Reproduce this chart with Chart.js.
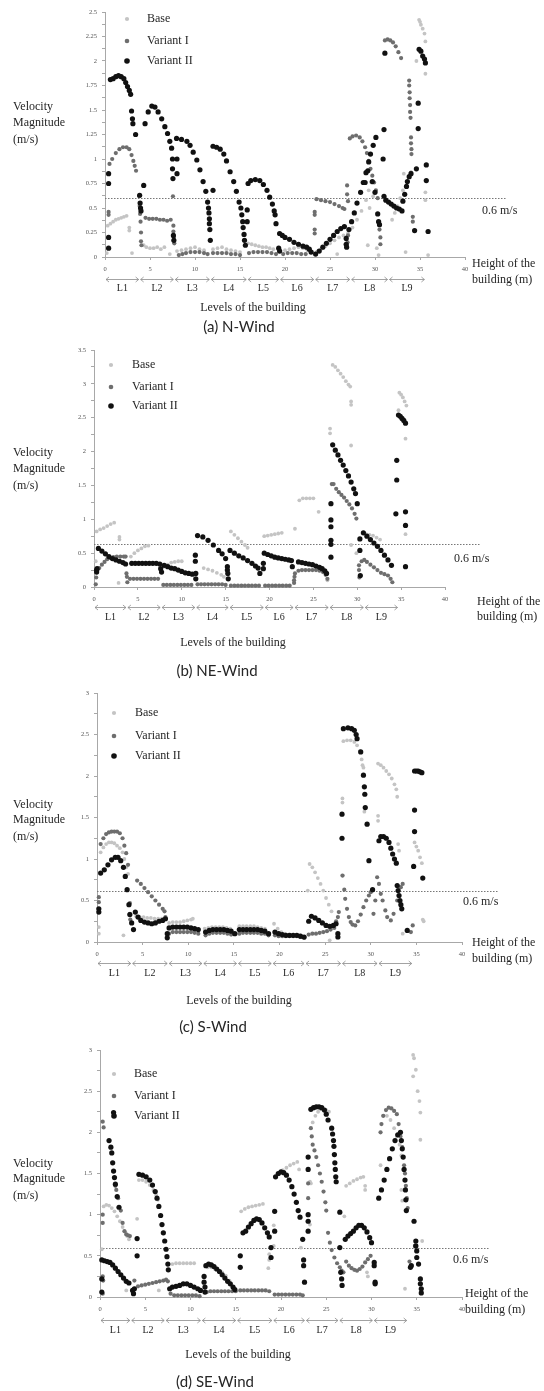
<!DOCTYPE html>
<html><head><meta charset="utf-8">
<script src="https://cdn.jsdelivr.net/npm/chart.js@4.4.1/dist/chart.umd.min.js"></script>
<style>
html,body{margin:0;padding:0;background:#fff;}
body{width:544px;height:1391px;position:relative;overflow:hidden;}
canvas{position:absolute;left:0;}
</style></head><body>
<canvas id="cA" width="544" height="340" style="top:0px"></canvas>
<canvas id="cB" width="544" height="340" style="top:340px"></canvas>
<canvas id="cC" width="544" height="360" style="top:680px"></canvas>
<canvas id="cD" width="544" height="351" style="top:1040px"></canvas>
<script>
// ---------- labels / categories ----------
const seriesNames = ['Base', 'Variant I', 'Variant II'];
const levelNames = ['L1','L2','L3','L4','L5','L6','L7','L8','L9'];
const yTitle = ['Velocity', 'Magnitude', '(m/s)'];
const heightTitle = ['Height of the', 'building (m)'];
const levelsTitle = 'Levels of the building';
const thresholdLabel = '0.6 m/s';
const captions = ['(a) N-Wind', '(b) NE-Wind', '(c) S-Wind', '(d) SE-Wind'];
const xTickStep = 5;

// ---------- (a) N-Wind ----------
const aYMax = 2.5, aYMajor = 0.25, aYMinor = 0.125, aThreshold = 0.6;
const aLevels = [0, 3.85, 7.7, 11.7, 15.8, 19.4, 23.3, 27.3, 31.5, 35.6];
const aBase = [[0.2,0.04],[0.3,0.32],[0.6,0.34],[0.9,0.36],[1.2,0.38],[1.5,0.39],[1.8,0.4],[2.1,0.41],[2.4,0.42],[2.7,0.3],[2.7,0.27],[3.0,0.04],
[4.3,0.12],[4.6,0.1],[5.0,0.09],[5.4,0.09],[5.8,0.1],[6.2,0.08],[6.6,0.1],[7.2,0.03],
[8.0,0.06],[8.5,0.07],[9.0,0.08],[9.5,0.09],[10.0,0.1],[10.5,0.08],[11.0,0.07],
[12.0,0.08],[12.5,0.09],[13.0,0.1],[13.5,0.08],[14.0,0.07],[14.5,0.06],[15.0,0.05],
[15.9,0.14],[16.3,0.13],[16.7,0.12],[17.1,0.11],[17.5,0.1],[17.9,0.1],[18.3,0.09],[18.7,0.08],
[19.5,0.06],[20.0,0.07],[20.5,0.08],[21.0,0.09],[21.5,0.1],[22.0,0.09],[22.5,0.07],[23.0,0.05],
[23.5,0.05],[24.0,0.08],[24.5,0.11],[25.0,0.14],[25.5,0.17],[26.0,0.2],[26.5,0.22],[25.8,0.03],
[27.0,0.24],[27.5,0.3],[28.0,0.38],[28.5,0.47],[29.0,0.58],[29.3,0.68],[29.6,0.76],[29.8,0.62],[29.4,0.5],[29.2,0.12],[30.2,0.09],[30.4,0.02],
[31.9,0.38],[32.2,0.45],[32.5,0.52],[32.8,0.6],[33.1,0.68],[33.2,0.85],[33.4,0.05],
[34.9,2.42],[35.0,2.4],[35.1,2.37],[35.3,2.33],[35.5,2.28],[35.6,2.2],[34.6,2.0],[35.6,1.87],[35.6,0.66],[35.6,0.58],[35.9,0.02]];
const aV1 = [[0.4,0.46],[0.4,0.43],[0.5,0.95],[0.8,1.0],[1.2,1.06],[1.6,1.1],[2.0,1.12],[2.4,1.12],[2.7,1.1],[2.95,1.04],[3.15,0.98],[3.3,0.93],[3.45,0.88],
[3.8,0.62],[3.85,0.52],[3.9,0.44],[3.95,0.36],[4.0,0.25],[4.0,0.16],[4.05,0.12],
[4.5,0.4],[4.9,0.39],[5.3,0.39],[5.7,0.39],[6.1,0.38],[6.5,0.38],[6.9,0.37],[7.3,0.38],
[7.55,0.62],[7.6,0.32],[7.6,0.26],[7.65,0.2],[7.7,0.14],
[8.2,0.02],[8.6,0.03],[9.0,0.04],[9.5,0.05],[10.0,0.05],[10.5,0.05],[11.0,0.04],[11.4,0.03],
[12.0,0.04],[12.5,0.04],[13.0,0.04],[13.5,0.04],[14.0,0.03],[14.5,0.03],[15.0,0.02],
[16.0,0.04],[16.5,0.05],[17.0,0.05],[17.5,0.05],[18.0,0.05],[18.5,0.04],[19.0,0.03],
[19.8,0.03],[20.3,0.04],[20.8,0.04],[21.3,0.04],[21.8,0.03],[22.3,0.03],
[23.3,0.46],[23.3,0.43],[23.3,0.28],[23.3,0.24],[23.5,0.59],[24.0,0.58],[24.5,0.57],[25.0,0.56],[25.5,0.54],[26.0,0.52],[26.4,0.5],[26.6,0.49],
[26.9,0.73],[26.9,0.64],[27.0,0.57],[27.0,0.22],[26.95,0.15],
[27.2,1.21],[27.5,1.23],[27.9,1.24],[28.3,1.22],[28.6,1.18],[28.9,1.12],[29.1,1.06],[29.3,0.98],[29.5,0.9],[29.7,0.83],[29.9,0.76],[30.1,0.68],[30.3,0.6],[30.5,0.28],[30.6,0.2],[30.6,0.13],
[31.1,2.21],[31.4,2.22],[31.7,2.21],[32.0,2.19],[32.3,2.15],[32.6,2.09],[32.9,2.03],
[33.8,1.8],[33.8,1.75],[33.85,1.68],[33.85,1.62],[33.9,1.55],[33.9,1.48],[33.95,1.42],[34.0,1.22],[34.0,1.16],[34.05,1.1],[34.05,1.05],[34.0,0.86],[34.2,0.41],[34.2,0.36]];
const aV2 = [[0.4,0.85],[0.4,0.75],[0.4,0.2],[0.4,0.09],
[0.6,1.81],[0.9,1.82],[1.2,1.84],[1.5,1.85],[1.8,1.84],[2.1,1.82],[2.3,1.78],[2.5,1.74],[2.7,1.7],[2.85,1.66],
[2.95,1.49],[3.05,1.41],[3.1,1.36],[3.4,1.25],
[3.85,0.63],[3.9,0.55],[3.95,0.5],[4.0,0.47],[4.3,0.73],
[4.45,1.36],[4.8,1.48],[5.2,1.54],[5.55,1.53],[5.9,1.48],[6.3,1.41],[6.65,1.33],[6.95,1.26],[7.2,1.18],[7.4,1.11],
[7.5,1.0],[7.5,0.9],[7.55,0.8],[7.6,0.22],[7.65,0.17],[8.0,1.0],[8.0,0.85],
[7.95,1.21],[8.5,1.2],[9.1,1.18],[9.45,1.14],[9.8,1.07],[10.2,0.99],[10.55,0.89],[10.9,0.77],[11.2,0.67],[11.4,0.56],
[11.5,0.5],[11.55,0.45],[11.6,0.39],[11.6,0.34],[11.65,0.28],[11.7,0.17],[12.0,0.68],
[12.0,1.13],[12.4,1.12],[12.8,1.1],[13.2,1.05],[13.5,0.98],[13.9,0.87],[14.3,0.77],[14.6,0.67],[14.9,0.56],[15.1,0.5],
[15.2,0.43],[15.3,0.36],[15.35,0.3],[15.45,0.23],[15.5,0.17],[15.6,0.12],[15.8,0.48],[15.8,0.36],
[15.9,0.75],[16.2,0.78],[16.7,0.79],[17.2,0.78],[17.6,0.74],[18.0,0.68],[18.3,0.61],[18.6,0.54],[18.8,0.47],[18.9,0.43],[19.0,0.34],
[19.3,0.09],[19.4,0.06],
[19.4,0.24],[19.7,0.22],[20.0,0.2],[20.5,0.18],[21.0,0.15],[21.5,0.13],[22.0,0.11],[22.4,0.1],[22.7,0.08],[22.9,0.05],
[23.4,0.03],[23.8,0.06],[24.2,0.1],[24.6,0.14],[25.0,0.18],[25.4,0.22],[25.8,0.26],[26.2,0.29],[26.6,0.31],
[26.8,0.19],[26.8,0.13],[26.85,0.1],
[27.1,0.28],[27.4,0.36],[27.7,0.45],[28.0,0.55],[28.4,0.66],[28.7,0.76],[29.0,0.86],[29.3,0.97],[29.5,1.05],[29.8,1.14],[30.1,1.22],
[28.9,0.76],[29.2,0.88],[29.7,0.77],[30.0,0.66],[30.3,0.44],[30.4,0.36],[30.5,0.33],[30.9,1.0],[31.0,1.3],[31.1,2.08],
[31.0,0.62],[31.2,0.58],[31.5,0.56],[31.8,0.54],[32.1,0.52],[32.4,0.5],[32.7,0.49],[33.0,0.47],
[33.1,0.57],[33.3,0.64],[33.5,0.72],[33.6,0.77],[33.8,0.82],[34.0,0.85],
[34.4,0.27],[34.6,0.9],[34.8,1.31],[34.8,1.57],[35.7,0.94],[35.7,0.78],[35.9,0.26],
[34.9,2.12],[35.1,2.1],[35.3,2.05],[35.5,2.02],[35.6,1.98]];

// ---------- (b) NE-Wind ----------
const bYMax = 3.5, bYMajor = 0.5, bYMinor = 0.25, bThreshold = 0.63;
const bLevels = [0, 3.75, 7.65, 11.6, 15.4, 19.4, 22.8, 26.8, 30.8, 34.7];
const bBase = [[0.2,0.38],[0.3,0.82],[0.7,0.85],[1.1,0.87],[1.5,0.9],[1.9,0.93],[2.3,0.95],[2.9,0.74],[2.9,0.7],[2.8,0.06],
[4.2,0.45],[4.6,0.5],[5.0,0.54],[5.4,0.57],[5.8,0.6],[6.2,0.61],
[8.0,0.3],[8.4,0.33],[8.8,0.36],[9.2,0.37],[9.6,0.38],[10.0,0.38],
[12.5,0.28],[13.0,0.26],[13.5,0.24],[14.0,0.21],[14.5,0.18],[14.8,0.15],
[15.6,0.82],[16.0,0.77],[16.4,0.72],[16.8,0.67],[17.2,0.62],[17.5,0.58],
[19.4,0.75],[19.8,0.76],[20.2,0.77],[20.6,0.78],[21.0,0.79],[21.4,0.8],
[22.9,0.86],[23.4,1.28],[23.8,1.31],[24.2,1.31],[24.6,1.31],[25.0,1.31],[25.6,1.11],[26.6,0.1],
[26.9,2.34],[26.9,2.27],[27.2,3.28],[27.5,3.25],[27.8,3.2],[28.1,3.15],[28.4,3.1],[28.7,3.04],[29.0,2.99],[29.2,2.96],[29.3,2.74],[29.3,2.69],[29.3,2.09],[29.3,0.62],[29.9,0.5],
[31.0,0.78],[31.4,0.77],[31.8,0.76],[32.2,0.73],[32.6,0.7],
[34.8,2.87],[35.0,2.84],[35.2,2.8],[35.4,2.74],[35.6,2.68],[34.7,2.61],[35.5,2.19],[35.5,0.78]];
const bV1 = [[0.2,0.04],[0.25,0.14],[0.3,0.24],[0.6,0.28],[0.9,0.33],[1.2,0.37],[1.5,0.41],[1.8,0.43],[2.2,0.44],[2.6,0.45],[3.0,0.45],[3.4,0.45],[3.6,0.45],
[3.7,0.2],[3.75,0.15],[3.8,0.07],
[4.1,0.12],[4.5,0.12],[4.9,0.12],[5.3,0.12],[5.7,0.12],[6.1,0.12],[6.5,0.12],[6.9,0.12],[7.3,0.12],
[7.9,0.03],[8.3,0.03],[8.7,0.03],[9.1,0.03],[9.5,0.03],[9.9,0.03],[10.3,0.03],[10.7,0.03],[11.1,0.03],
[11.8,0.04],[12.2,0.04],[12.6,0.04],[13.0,0.04],[13.4,0.04],[13.8,0.04],[14.2,0.04],[14.6,0.04],[15.0,0.03],
[15.6,0.02],[16.0,0.02],[16.4,0.02],[16.8,0.02],[17.2,0.02],[17.6,0.02],[18.0,0.02],[18.4,0.02],[18.8,0.02],
[19.5,0.02],[19.9,0.02],[20.3,0.02],[20.7,0.02],[21.1,0.02],[21.5,0.02],[21.9,0.02],[22.3,0.02],
[22.8,0.06],[22.8,0.1],[22.85,0.15],[22.9,0.2],
[23.3,0.24],[23.7,0.25],[24.1,0.25],[24.5,0.25],[24.9,0.25],[25.3,0.25],[25.7,0.24],[26.1,0.22],[26.4,0.18],[26.6,0.12],
[27.1,1.52],[27.3,1.52],[27.6,1.45],[27.9,1.4],[28.2,1.36],[28.5,1.32],[28.8,1.27],[29.1,1.22],[29.4,1.16],[29.7,1.08],[29.9,1.01],
[30.2,0.32],[30.2,0.25],[30.25,0.14],
[30.5,0.38],[30.8,0.4],[31.1,0.37],[31.5,0.33],[31.9,0.29],[32.3,0.25],[32.7,0.21],[33.1,0.19],[33.5,0.17],[33.8,0.12],[34.0,0.07]];
const bV2 = [[0.3,0.25],[0.3,0.22],[0.35,0.27],
[0.5,0.57],[0.9,0.53],[1.3,0.49],[1.7,0.45],[2.1,0.42],[2.5,0.4],[2.9,0.38],[3.3,0.36],[3.6,0.34],
[4.3,0.35],[4.7,0.35],[5.1,0.35],[5.5,0.35],[5.9,0.35],[6.3,0.35],[6.7,0.35],[7.1,0.35],[7.5,0.34],[7.6,0.27],[7.7,0.22],
[8.0,0.32],[8.4,0.3],[8.8,0.28],[9.2,0.27],[9.6,0.25],[10.0,0.23],[10.4,0.21],[10.8,0.2],[11.2,0.19],
[11.55,0.47],[11.55,0.38],[11.6,0.2],[11.6,0.12],
[11.8,0.76],[12.4,0.74],[13.0,0.69],[13.6,0.62],[14.2,0.54],[14.6,0.49],[15.0,0.42],
[15.2,0.3],[15.2,0.25],[15.25,0.2],[15.3,0.12],
[15.5,0.54],[16.0,0.5],[16.5,0.46],[17.0,0.43],[17.5,0.39],[18.0,0.35],[18.4,0.31],[18.7,0.28],[18.9,0.2],
[19.3,0.35],[19.3,0.27],
[19.4,0.5],[19.8,0.48],[20.2,0.46],[20.6,0.44],[21.0,0.43],[21.4,0.42],[21.8,0.41],[22.2,0.4],[22.5,0.39],[22.6,0.3],
[23.3,0.37],[23.7,0.36],[24.1,0.35],[24.5,0.34],[24.9,0.33],[25.3,0.31],[25.7,0.29],[26.0,0.27],[26.3,0.24],[26.5,0.2],
[27.0,1.23],[27.0,0.99],[27.0,0.89],[27.0,0.69],[27.0,0.63],[27.0,0.44],
[27.2,2.1],[27.5,2.02],[27.8,1.95],[28.1,1.87],[28.4,1.8],[28.7,1.72],[29.0,1.64],[29.3,1.55],[29.6,1.45],[29.8,1.38],[30.0,1.23],
[30.3,0.71],[30.3,0.54],[30.35,0.17],
[30.7,0.8],[31.1,0.75],[31.5,0.7],[31.9,0.65],[32.3,0.6],[32.7,0.54],[33.1,0.47],[33.5,0.4],[33.9,0.32],
[34.5,1.87],[34.5,1.58],[34.4,1.08],[35.5,1.11],[35.5,0.91],[35.5,0.3],
[34.7,2.54],[34.9,2.52],[35.1,2.49],[35.3,2.46],[35.5,2.42]];

// ---------- (c) S-Wind ----------
const cYMax = 3, cYMajor = 0.5, cYMinor = 0.25, cThreshold = 0.61;
const cLevels = [0, 3.8, 7.8, 11.6, 15.4, 19.2, 22.8, 26.8, 30.8, 34.6];
const cBase = [[0.2,0.18],[0.2,0.1],
[0.4,1.08],[0.7,1.14],[1.0,1.18],[1.3,1.2],[1.6,1.2],[1.9,1.19],[2.2,1.16],[2.5,1.13],[2.8,1.08],[3.0,1.0],[3.2,0.9],[3.4,0.82],[2.9,0.08],
[4.3,0.31],[4.7,0.3],[5.1,0.3],[5.5,0.29],[5.9,0.29],[6.3,0.28],[6.7,0.28],[7.1,0.28],
[7.9,0.23],[8.3,0.24],[8.7,0.24],[9.1,0.24],[9.5,0.25],[9.9,0.26],[10.3,0.27],[10.5,0.28],
[11.8,0.16],[12.2,0.17],[12.6,0.18],[13.0,0.18],[13.4,0.18],[13.8,0.18],[14.2,0.17],[14.6,0.16],
[15.6,0.19],[16.0,0.19],[16.4,0.19],[16.8,0.19],[17.2,0.19],[17.6,0.18],[18.0,0.17],[18.4,0.16],
[19.4,0.22],[19.8,0.16],[20.2,0.12],[20.6,0.1],[21.0,0.09],[21.4,0.08],[21.8,0.08],[22.2,0.08],
[23.1,0.62],[23.3,0.94],[23.6,0.9],[23.9,0.84],[24.2,0.77],[24.5,0.7],[24.8,0.62],[25.1,0.53],[25.4,0.45],[25.7,0.37],[25.5,0.02],
[26.9,1.73],[26.9,1.68],[26.95,0.8],
[27.0,2.42],[27.4,2.43],[27.8,2.43],[28.2,2.41],[28.5,2.37],[28.8,2.3],[29.0,2.2],[29.1,2.13],[29.2,2.1],[29.3,1.57],
[30.8,1.52],[30.8,1.46],
[30.8,2.15],[31.1,2.13],[31.4,2.1],[31.7,2.06],[32.0,2.02],[32.3,1.97],[32.6,1.9],[32.8,1.84],[32.9,1.75],[33.0,1.18],[33.1,1.1],[33.5,0.1],
[34.8,1.2],[35.0,1.15],[35.2,1.1],[35.4,1.02],[35.6,0.95],[35.7,0.27],[35.8,0.25]];
const cV1 = [[0.2,0.54],[0.2,0.48],
[0.4,1.18],[0.7,1.25],[1.0,1.3],[1.3,1.32],[1.6,1.33],[1.9,1.33],[2.2,1.33],[2.5,1.31],[2.8,1.25],[3.0,1.16],[3.2,1.07],[3.4,0.93],
[3.6,0.47],[3.6,0.34],[3.65,0.27],
[4.4,0.74],[4.8,0.7],[5.2,0.65],[5.6,0.6],[6.0,0.55],[6.4,0.5],[6.8,0.45],[7.2,0.4],[7.4,0.37],[7.5,0.3],
[7.9,0.1],[8.3,0.12],[8.7,0.12],[9.1,0.12],[9.5,0.12],[9.9,0.12],[10.3,0.12],[10.7,0.11],[11.1,0.1],
[11.9,0.08],[12.3,0.1],[12.7,0.11],[13.1,0.11],[13.5,0.11],[13.9,0.11],[14.3,0.1],[14.7,0.09],
[15.6,0.1],[16.0,0.11],[16.4,0.11],[16.8,0.11],[17.2,0.11],[17.6,0.11],[18.0,0.1],[18.4,0.1],[18.8,0.08],
[19.5,0.08],[19.9,0.07],[20.3,0.07],[20.7,0.07],[21.1,0.07],[21.5,0.07],[21.9,0.07],[22.3,0.06],[22.7,0.05],
[23.2,0.09],[23.6,0.1],[24.0,0.1],[24.4,0.11],[24.8,0.12],[25.2,0.13],[25.6,0.15],[26.0,0.17],[26.2,0.25],[26.4,0.3],[26.5,0.36],
[26.9,0.8],[27.1,0.63],[27.2,0.52],[27.4,0.4],[27.6,0.3],[27.8,0.24],[28.0,0.21],[28.3,0.2],[28.6,0.25],[28.9,0.33],[29.2,0.42],[29.5,0.5],[29.8,0.56],[30.0,0.6],
[30.3,0.34],[30.5,0.5],[30.7,0.78],[30.9,0.7],[31.1,0.58],[31.3,0.5],[31.6,0.38],[31.8,0.3],[32.2,0.26],[32.5,0.34],[32.9,0.5],[33.3,0.66],[33.5,0.7],
[34.4,0.12],[34.6,0.2]];
const cV2 = [[0.2,0.4],[0.2,0.36],
[0.4,0.83],[0.8,0.87],[1.2,0.93],[1.6,0.99],[2.0,1.02],[2.3,1.02],[2.6,0.98],[2.9,0.9],[3.1,0.79],[3.3,0.63],[3.5,0.45],[3.6,0.33],[3.8,0.23],[4.0,0.15],
[4.2,0.36],[4.5,0.3],[4.8,0.26],[5.2,0.24],[5.6,0.23],[6.0,0.22],[6.4,0.23],[6.8,0.25],[7.2,0.26],[7.5,0.28],
[7.7,0.1],[7.7,0.05],
[7.9,0.17],[8.3,0.18],[8.7,0.18],[9.1,0.18],[9.5,0.18],[9.9,0.18],[10.3,0.17],[10.7,0.16],[11.1,0.15],
[11.9,0.12],[12.3,0.14],[12.7,0.15],[13.1,0.15],[13.5,0.15],[13.9,0.15],[14.3,0.14],[14.7,0.13],[15.1,0.1],
[15.6,0.15],[16.0,0.15],[16.4,0.15],[16.8,0.15],[17.2,0.15],[17.6,0.15],[18.0,0.14],[18.4,0.13],[18.8,0.1],
[19.5,0.12],[19.9,0.1],[20.3,0.09],[20.7,0.08],[21.1,0.08],[21.5,0.08],[21.9,0.08],[22.3,0.07],[22.7,0.06],
[23.2,0.25],[23.5,0.31],[23.9,0.29],[24.3,0.26],[24.7,0.23],[25.1,0.2],[25.5,0.19],[25.9,0.2],[26.2,0.22],
[26.4,0.1],[26.4,0.06],[26.85,1.54],[26.85,1.25],
[27.0,2.57],[27.5,2.58],[27.9,2.57],[28.2,2.55],[28.4,2.5],[28.5,2.45],
[28.9,2.29],[29.2,2.01],[29.3,1.87],[29.35,1.78],[29.4,1.62],[29.6,1.42],[29.8,0.98],[30.2,0.63],
[30.9,1.22],[31.1,1.27],[31.4,1.27],[31.7,1.25],[32.0,1.2],[32.2,1.13],[32.4,1.06],[32.6,1.0],[32.8,0.95],
[32.9,0.68],[33.0,0.62],[33.1,0.56],[33.2,0.5],[33.3,0.45],[33.4,0.4],
[34.0,0.14],[34.7,0.91],[34.8,1.33],[34.8,1.59],[35.7,0.77],
[34.8,2.06],[35.0,2.06],[35.2,2.06],[35.4,2.05],[35.6,2.04]];

// ---------- (d) SE-Wind ----------
const dYMax = 3, dYMajor = 0.5, dYMinor = 0.25, dThreshold = 0.6;
const dLevels = [0, 3.4, 7.2, 11.2, 15.1, 19.1, 22.7, 26.4, 30.2, 34.0];
const dBase = [[0.2,0.58],[0.4,1.1],[0.7,1.12],[1.0,1.11],[1.3,1.08],[1.6,1.04],[1.9,0.98],[2.2,0.92],[2.5,0.85],[2.8,0.79],[3.0,0.74],[3.2,0.7],[2.9,0.08],
[4.1,0.95],[4.3,1.42],[4.7,1.42],[5.1,1.4],[5.5,1.36],[5.9,1.3],[6.2,1.24],[6.4,1.18],[6.5,0.08],
[8.0,0.4],[8.4,0.41],[8.8,0.41],[9.2,0.41],[9.6,0.41],[10.0,0.41],[10.4,0.41],
[11.9,0.36],[12.3,0.36],[12.7,0.34],[13.1,0.32],[13.5,0.3],[13.9,0.26],[14.3,0.2],
[15.6,1.04],[16.0,1.07],[16.4,1.09],[16.8,1.1],[17.2,1.11],[17.6,1.12],[18.0,1.13],[18.7,0.52],[18.7,0.45],[18.6,0.35],
[19.2,0.87],[19.2,0.62],
[19.4,1.46],[19.8,1.5],[20.2,1.54],[20.6,1.57],[21.0,1.6],[21.4,1.62],[21.8,1.64],[22.0,1.55],[22.2,0.6],
[23.2,1.4],[23.3,1.38],[23.2,0.88],
[23.5,2.12],[23.8,2.2],[24.1,2.25],[24.4,2.28],[24.7,2.28],[25.0,2.27],[25.3,2.25],
[27.0,0.98],[27.2,1.35],[27.6,1.38],[28.0,1.41],[28.4,1.43],[28.8,1.45],[29.1,1.46],[29.3,1.35],[29.3,1.3],[29.5,0.3],[29.6,0.25],
[31.0,1.6],[31.3,2.2],[31.7,2.2],[32.1,2.15],[32.5,2.05],[32.8,1.95],[33.1,1.85],[33.3,1.72],[33.3,1.3],[33.4,1.17],[33.7,0.1],
[34.6,2.94],[34.7,2.9],[34.9,2.76],[34.6,2.68],[35.1,2.5],[35.3,2.38],[35.4,2.24],[35.4,1.91],[35.6,0.68]];
const dV1 = [[0.3,2.13],[0.4,2.06],[0.3,1.0],[0.3,0.9],[0.3,0.25],[0.35,0.2],[0.3,0.04],
[1.7,1.35],[1.8,1.3],[2.0,1.2],[2.3,1.05],[2.5,0.9],[2.7,0.8],[2.9,0.76],[3.1,0.75],[3.3,0.74],
[3.7,0.04],[3.8,0.2],
[4.2,0.13],[4.6,0.14],[5.0,0.15],[5.4,0.16],[5.8,0.17],[6.2,0.18],[6.6,0.19],[7.0,0.2],[7.3,0.21],[7.5,0.19],
[7.8,0.04],[8.2,0.02],[8.6,0.02],[9.0,0.02],[9.4,0.02],[9.8,0.02],[10.2,0.02],[10.6,0.02],[11.0,0.01],
[11.8,0.06],[12.2,0.07],[12.6,0.07],[13.0,0.07],[13.4,0.07],[13.8,0.07],[14.2,0.07],[14.6,0.07],[15.0,0.07],
[15.5,0.08],[15.9,0.08],[16.3,0.08],[16.7,0.08],[17.1,0.08],[17.5,0.08],[17.9,0.08],[18.3,0.08],[18.7,0.07],
[19.3,0.03],[19.7,0.03],[20.1,0.03],[20.5,0.03],[20.9,0.03],[21.3,0.03],[21.7,0.03],[22.1,0.03],[22.4,0.02],
[23.0,1.38],[23.0,1.2],
[23.3,2.05],[23.4,1.95],[23.5,1.85],[23.7,1.78],[23.9,1.7],[24.1,1.6],[24.3,1.5],[24.5,1.4],[24.7,1.28],[24.9,1.15],[25.0,1.05],
[25.2,0.78],[25.4,0.66],[25.6,0.57],[25.9,0.48],[26.2,0.41],[26.5,0.36],[26.7,0.32],[26.9,0.3],
[27.2,0.43],[27.5,0.38],[27.8,0.35],[28.1,0.33],[28.4,0.32],[28.7,0.34],[29.0,0.37],[29.3,0.42],[29.6,0.46],[29.9,0.5],
[31.0,2.0],[31.1,2.1],[31.3,2.2],[31.6,2.27],[31.9,2.3],[32.2,2.29],[32.5,2.26],[32.8,2.22],
[33.0,2.1],[33.2,1.95],[33.4,1.82],[33.5,1.7],[33.6,1.6],[33.7,1.5],[33.8,1.35],[33.9,1.2],[34.0,1.08],
[34.2,0.43],[34.8,0.62]];
const dV2 = [[0.2,0.22],[0.2,0.06],
[0.2,0.45],[0.5,0.44],[0.8,0.43],[1.1,0.42],[1.4,0.39],[1.7,0.35],[2.0,0.31],[2.3,0.27],[2.6,0.23],[2.9,0.19],[3.2,0.17],
[1.5,2.24],[1.0,1.9],[1.2,1.82],[1.3,1.75],[1.4,1.63],[1.5,1.53],[1.6,1.45],[1.7,1.37],[1.9,1.22],[2.1,1.09],
[3.6,0.08],[3.7,0.04],[3.8,0.1],[4.1,0.71],[4.1,0.5],
[4.3,1.49],[4.7,1.48],[5.1,1.46],[5.5,1.42],[5.8,1.36],[6.1,1.28],[6.3,1.2],[6.5,1.1],[6.7,0.99],[6.85,0.88],[7.0,0.78],[7.15,0.68],[7.3,0.58],[7.4,0.49],[7.5,0.4],[7.55,0.33],
[7.7,0.1],[8.0,0.12],[8.4,0.13],[8.8,0.14],[9.2,0.16],[9.6,0.16],[10.0,0.14],[10.4,0.12],[10.8,0.1],[11.1,0.08],
[11.5,0.25],[11.5,0.18],[11.6,0.12],[11.6,0.06],
[11.7,0.38],[12.0,0.4],[12.3,0.39],[12.6,0.37],[12.9,0.34],[13.2,0.31],[13.5,0.27],[13.8,0.23],[14.1,0.19],[14.4,0.16],[14.7,0.12],[14.9,0.09],
[15.5,0.5],[15.5,0.36],
[15.8,0.78],[16.1,0.8],[16.4,0.85],[16.7,0.89],[17.0,0.93],[17.3,0.95],[17.6,0.94],[17.9,0.9],[18.2,0.84],[18.5,0.78],[18.7,0.73],
[18.9,0.6],[18.9,0.48],[19.3,1.04],[19.3,0.8],
[19.4,1.46],[19.7,1.5],[20.0,1.52],[20.3,1.51],[20.6,1.48],[20.9,1.42],[21.2,1.34],[21.45,1.25],[21.7,1.15],[21.9,1.05],[22.1,0.97],
[22.4,0.7],[22.5,0.45],[22.5,0.38],[22.6,0.18],
[23.0,1.7],[23.0,1.55],[23.0,1.0],[23.0,0.92],[23.0,0.8],
[23.3,2.28],[23.6,2.3],[23.9,2.31],[24.2,2.31],[24.5,2.3],[24.8,2.27],[25.0,2.22],[25.2,2.15],
[25.6,2.05],[25.7,1.98],[25.8,1.9],[25.85,1.83],[25.9,1.73],[25.95,1.63],[26.0,1.55],[26.05,1.46],[26.1,1.4],
[26.5,1.03],[26.5,0.6],[26.6,0.3],[26.7,0.22],[26.75,0.14],
[27.1,0.7],[27.4,0.74],[27.7,0.77],[28.0,0.8],[28.3,0.84],[28.6,0.87],[28.9,0.87],[29.2,0.84],[29.5,0.79],[29.8,0.72],[30.0,0.66],
[30.3,0.42],[30.3,0.38],[30.4,0.18],[30.4,0.16],
[30.8,1.2],[31.1,1.3],[31.4,1.42],[31.7,1.55],[32.0,1.68],[32.3,1.8],[32.6,1.9],[32.9,1.97],[33.2,2.0],
[33.3,1.9],[33.4,1.8],[33.5,1.7],[33.6,1.55],[33.7,1.42],[33.75,1.3],[33.8,1.18],[33.85,1.05],
[34.3,0.36],[34.4,0.38],[34.7,0.92],[34.9,0.68],[34.9,0.62],[35.0,0.56],[35.0,0.48],[35.2,0.4],[35.4,0.22],[35.4,0.16],[35.5,0.1],[35.5,0.05]];

// ---------- styling ----------
const SERIF = '"Liberation Serif","Times New Roman",serif';
const SANS = 'Lato,"Open Sans",sans-serif';
const TEXT = '#262626', TICK = '#555555', AXIS = '#a8a8a8';
const COLORS = ['#c4c4c4', '#6e6e6e', '#111111'];
const RADII = [1.9, 2.1, 2.6];

function decor(d, L) {
  return {
    id: 'decor',
    beforeDatasetsDraw(chart) {
      const {ctx, scales: {x, y}} = chart;
      const py = Math.round(y.getPixelForValue(d.threshold)) + 0.5;
      ctx.save();
      ctx.strokeStyle = '#777'; ctx.lineWidth = 1; ctx.setLineDash([1.5, 1.5]);
      ctx.beginPath(); ctx.moveTo(x.getPixelForValue(0), py); ctx.lineTo(L.lineEnd, py); ctx.stroke();
      ctx.restore();
    },
    afterDraw(chart) {
      const {ctx, scales: {x}, chartArea: ca} = chart;
      ctx.save();
      ctx.textBaseline = 'middle'; ctx.fillStyle = TEXT;
      const ay = Math.round(ca.bottom + L.arrowDy) + 0.5;
      ctx.strokeStyle = '#8c8c8c'; ctx.lineWidth = 0.8;
      ctx.font = '10px ' + SERIF; ctx.textAlign = 'center';
      for (let i = 0; i < d.levels.length - 1; i++) {
        const x1 = x.getPixelForValue(d.levels[i]) + 1, x2 = x.getPixelForValue(d.levels[i + 1]) - 1;
        ctx.beginPath();
        ctx.moveTo(x1, ay); ctx.lineTo(x2, ay);
        ctx.moveTo(x1 + 3, ay - 2.5); ctx.lineTo(x1, ay); ctx.lineTo(x1 + 3, ay + 2.5);
        ctx.moveTo(x2 - 3, ay - 2.5); ctx.lineTo(x2, ay); ctx.lineTo(x2 - 3, ay + 2.5);
        ctx.stroke();
        ctx.fillText(levelNames[i], (x1 + x2) / 2, ca.bottom + L.labelDy);
      }
      ctx.textAlign = 'left'; ctx.font = '12px ' + SERIF;
      yTitle.forEach((t, i) => ctx.fillText(t, L.yTitleX, L.yTitleY[i]));
      ctx.fillText(thresholdLabel, L.thrX, L.thrY);
      heightTitle.forEach((t, i) => ctx.fillText(t, L.hX, L.hY[i]));
      ctx.textAlign = 'center';
      ctx.fillText(levelsTitle, L.lvX, L.lvY);
      ctx.font = '15px ' + SANS;
      ctx.fillText(d.caption, L.capX, L.capY);
      ctx.textAlign = 'left'; ctx.font = '12px ' + SERIF;
      chart.data.datasets.forEach((ds, i) => {
        ctx.fillStyle = ds.pointBackgroundColor;
        ctx.beginPath(); ctx.arc(L.legX, L.legY[i], ds.pointRadius + 0.2, 0, Math.PI * 2); ctx.fill();
        ctx.fillStyle = TEXT;
        ctx.fillText(ds.label, L.legTX, L.legY[i]);
      });
      ctx.restore();
    }
  };
}

function panel(id, d, L) {
  const mk = (i, data, order) => ({
    label: seriesNames[i], data: data.map(([x, y]) => ({x, y})),
    pointRadius: RADII[i], pointHoverRadius: RADII[i], pointBorderWidth: 0,
    pointBackgroundColor: COLORS[i], backgroundColor: COLORS[i], borderColor: COLORS[i],
    showLine: false, clip: false, order
  });
  const tickFont = {family: SERIF, size: 6.5};
  return new Chart(document.getElementById(id), {
    type: 'scatter',
    data: {datasets: [mk(0, d.base, 3), mk(1, d.v1, 2), mk(2, d.v2, 1)]},
    options: {
      responsive: false, animation: false, devicePixelRatio: 1, events: [],
      layout: {padding: L.pad},
      plugins: {legend: {display: false}, tooltip: {enabled: false}},
      scales: {
        x: {type: 'linear', min: 0, max: 40,
          afterFit: s => { s.height = 20; },
          border: {color: AXIS},
          grid: {drawOnChartArea: false, tickLength: 3, color: AXIS},
          ticks: {stepSize: xTickStep, autoSkip: false, maxRotation: 0, padding: 5, color: TICK, font: tickFont,
            callback: v => String(v)}},
        y: {type: 'linear', min: 0, max: d.ymax,
          afterFit: s => { s.width = L.yw; },
          border: {color: AXIS},
          grid: {drawOnChartArea: false, tickLength: 3, color: AXIS},
          ticks: {stepSize: d.minor, autoSkip: false, padding: 5, color: TICK, font: tickFont,
            callback: v => { const r = v / d.major; return Math.abs(r - Math.round(r)) < 1e-6 ? String(Math.round(v * 100) / 100) : ''; }}}
      }
    },
    plugins: [decor(d, L)]
  });
}

panel('cA', {base: aBase, v1: aV1, v2: aV2, ymax: aYMax, major: aYMajor, minor: aYMinor, threshold: aThreshold, levels: aLevels, caption: captions[0]},
  {pad: {left: 0, right: 79, top: 12, bottom: 63}, yw: 105, lineEnd: 506, arrowDy: 22, labelDy: 31,
   yTitleX: 13, yTitleY: [107, 123, 140], thrX: 482, thrY: 211, hX: 472, hY: [264, 280],
   lvX: 253, lvY: 308, capX: 239, capY: 327, legX: 127, legTX: 147, legY: [19, 41, 61]});
panel('cB', {base: bBase, v1: bV1, v2: bV2, ymax: bYMax, major: bYMajor, minor: bYMinor, threshold: bThreshold, levels: bLevels, caption: captions[1]},
  {pad: {left: 0, right: 99, top: 10, bottom: 73}, yw: 94, lineEnd: 480, arrowDy: 20, labelDy: 30,
   yTitleX: 13, yTitleY: [113, 129, 146], thrX: 454, thrY: 219, hX: 477, hY: [262, 277],
   lvX: 233, lvY: 303, capX: 217, capY: 331, legX: 111, legTX: 132, legY: [25, 47, 66]});
panel('cC', {base: cBase, v1: cV1, v2: cV2, ymax: cYMax, major: cYMajor, minor: cYMinor, threshold: cThreshold, levels: cLevels, caption: captions[2]},
  {pad: {left: 0, right: 82, top: 13, bottom: 78}, yw: 97, lineEnd: 498, arrowDy: 21, labelDy: 31,
   yTitleX: 13, yTitleY: [125, 140, 157], thrX: 463, thrY: 222, hX: 472, hY: [263, 279],
   lvX: 239, lvY: 321, capX: 213, capY: 347, legX: 114, legTX: 135, legY: [33, 56, 76]});
panel('cD', {base: dBase, v1: dV1, v2: dV2, ymax: dYMax, major: dYMajor, minor: dYMinor, threshold: dThreshold, levels: dLevels, caption: captions[3]},
  {pad: {left: 0, right: 82, top: 10, bottom: 74}, yw: 100, lineEnd: 489, arrowDy: 23, labelDy: 33,
   yTitleX: 13, yTitleY: [124, 139, 156], thrX: 453, thrY: 220, hX: 465, hY: [254, 270],
   lvX: 238, lvY: 315, capX: 215, capY: 342, legX: 114, legTX: 134, legY: [34, 56, 76]});
</script>
</body></html>
